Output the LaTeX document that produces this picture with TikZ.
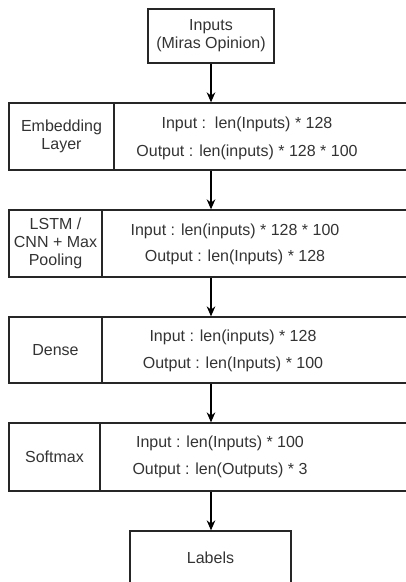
\documentclass[tikz,border=0pt]{standalone}
\usepackage{fontspec}
\setmainfont{Liberation Sans}
\usetikzlibrary{arrows.meta}

\tikzset{
  cell/.style={draw=black!85, line width=1pt, inner sep=0pt, text=black!80, align=center,
    font=\fontsize{12}{13.5}\selectfont},
  io/.style={text=black!80, align=center, inner sep=0pt, font=\fontsize{12}{20}\selectfont},
  flow/.style={-{Stealth[length=7.5pt,width=6.5pt]}, line width=0.9pt, black}
}

\begin{document}
\begin{tikzpicture}[x=0.75pt,y=-0.75pt]
                \useasboundingbox (0,0) rectangle (406,582);
                \clip (0,0) rectangle (406,582);

                \node (inputs) at (211,36) [cell,minimum width=94.5pt,minimum height=40.5pt] {Inputs\\(Miras Opinion)};

                \node (emb) at (61.5,136.5) [cell,minimum width=78.75pt,minimum height=50.25pt] {Embedding\\Layer};
                \node (embr) at (272,136.5) [cell,minimum width=237pt,minimum height=50.25pt] {};
                \node (embio) at (247,138.5) [io] {Input :\ \ len(Inputs) * 128\\[1.5pt]Output : len(inputs) * 128 * 100};

                \node (lstm) at (55.5,243.5) [cell,minimum width=69.75pt,minimum height=50.25pt] {LSTM /\\CNN + Max\\Pooling};
                \node (lstmr) at (266,243.5) [cell,minimum width=246pt,minimum height=50.25pt] {};
                \node (lstmio) at (235,244.5) [io] {Input : len(inputs) * 128 * 100\\Output : len(Inputs) * 128};

                \node (dense) at (55.5,350) [cell,minimum width=69.75pt,minimum height=49.5pt] {Dense};
                \node (denser) at (266,350) [cell,minimum width=246pt,minimum height=49.5pt] {};
                \node (denseio) at (233,351) [io] {Input : len(inputs) * 128\\Output : len(Inputs) * 100};

                \node (soft) at (54.5,457) [cell,minimum width=68.25pt,minimum height=51pt] {Softmax};
                \node (softr) at (265,457) [cell,minimum width=247.5pt,minimum height=51pt] {};
                \node (softio) at (220,457) [io] {Input : len(Inputs) * 100\\Output : len(Outputs) * 3};

                \node (labels) at (210.5,558) [cell,minimum width=120.75pt,minimum height=40.5pt] {Labels};

                \draw [flow] (inputs.south) -- (inputs.south |- embr.north);
                \draw [flow] (embr.south -| inputs) -- (lstmr.north -| inputs);
                \draw [flow] (lstmr.south -| inputs) -- (denser.north -| inputs);
                \draw [flow] (denser.south -| inputs) -- (softr.north -| inputs);
                \draw [flow] (softr.south -| inputs) -- (labels.north -| inputs);

            \end{tikzpicture}
\end{document}
